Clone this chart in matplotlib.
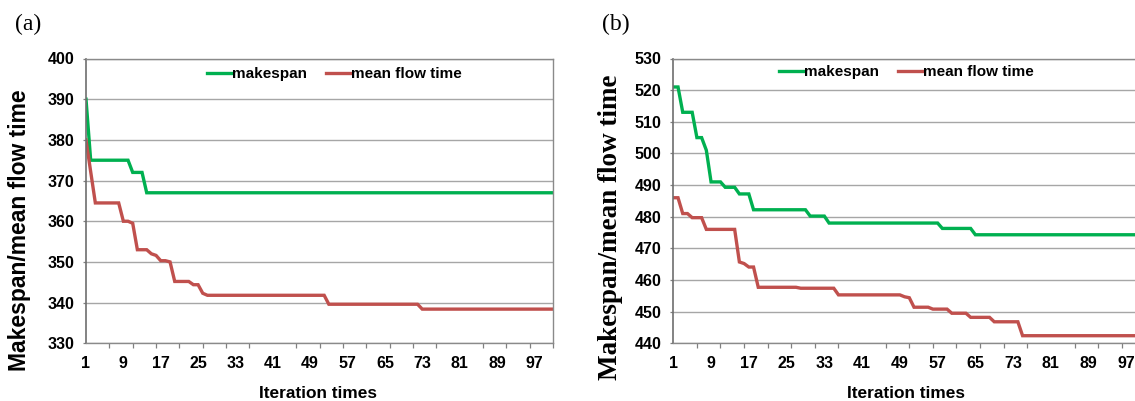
import numpy as np
import matplotlib
matplotlib.use("Agg")
import matplotlib.pyplot as plt

# iteration index (category axis)
iters = np.arange(1, 102)
xtick_labels = list(range(1, 98, 8))

# series, stored as (level, run length) steps
ms_a_vals = [390, 375, 372, 367]
ms_a_runs = [1, 9, 3, 88]
mft_a_vals = [380, 372.2, 364.5, 360, 359.5, 353, 352, 351.6, 350.3, 350,
              345.2, 344.4, 342.3, 341.8, 339.6, 338.4]
mft_a_runs = [1, 1, 6, 2, 1, 3, 1, 1, 2, 1, 4, 2, 1, 26, 20, 29]

ms_b_vals = [521, 513, 505, 501, 491, 489.3, 487.2, 482.2, 480.2, 478, 476.3, 474.3]
ms_b_runs = [2, 3, 2, 1, 3, 3, 3, 12, 4, 24, 7, 37]
mft_b_vals = [486, 481, 479.7, 476, 465.7, 465.2, 464.1, 457.7, 457.4, 455.3,
              454.7, 454.4, 451.4, 450.8, 449.5, 448.2, 446.8, 442.4]
mft_b_runs = [2, 2, 3, 7, 1, 1, 2, 9, 8, 14, 1, 1, 4, 4, 4, 5, 6, 27]

ms_a = np.repeat(ms_a_vals, ms_a_runs)
mft_a = np.repeat(mft_a_vals, mft_a_runs)
ms_b = np.repeat(ms_b_vals, ms_b_runs)
mft_b = np.repeat(mft_b_vals, mft_b_runs)

GREEN = "#00b050"
RED = "#c0504d"
SANS = "Liberation Sans"
SERIF = "Liberation Serif"

fig = plt.figure(figsize=(11.35, 4.01), dpi=100)
W, H = 1135, 401

def make_ax(left_px, right_px):
    top_px, bot_px = 58.5, 343.3
    return fig.add_axes([left_px / W, (H - bot_px) / H,
                         (right_px - left_px) / W, (bot_px - top_px) / H])

ax_a = make_ax(86, 553)
ax_b = make_ax(673.3, 1145.3)

panels = [
    (ax_a, ms_a, mft_a, (330, 400), SANS, 16.5, -0.1415, 0.397, (0.532, 0.944), 0.497),
    (ax_b, ms_b, mft_b, (440, 530), SERIF, 19.5, -0.132, 0.408, (0.494, 0.951), 0.494),
]

for ax, ms, mft, ylim, yfont, ysize, ylx, yly, legpos, xlx in panels:
    ax.plot(iters, ms, color=GREEN, lw=2.4, label="makespan", solid_joinstyle="miter")
    ax.plot(iters, mft, color=RED, lw=2.4, label="mean flow time", solid_joinstyle="miter")
    ax.set_xlim(1, 101)
    ax.set_ylim(*ylim)
    ax.set_yticks(np.arange(ylim[0], ylim[1] + 1, 10))
    ax.set_xticks(xtick_labels)
    ax.set_xticks(np.arange(1, 102, 5), minor=True)
    ax.tick_params(axis="x", which="major", length=0, pad=9)
    ax.tick_params(axis="x", which="minor", length=3.5, width=0.9, color="#808080", direction="out")
    ax.tick_params(axis="y", length=2.5, width=0.9, color="#808080", pad=6)
    for lab in ax.get_xticklabels() + ax.get_yticklabels():
        lab.set_fontfamily(SANS)
        lab.set_fontweight("bold")
        lab.set_fontsize(11.5)
    ax.grid(axis="y", color="#a6a6a6", lw=1.0)
    ax.set_axisbelow(True)
    for side in ["top", "right", "bottom"]:
        ax.spines[side].set_color("#8a8a8a")
        ax.spines[side].set_linewidth(1.0)
    ax.spines["left"].set_color("#6e6e6e")
    ax.spines["left"].set_linewidth(1.2)
    ax.text(ylx, yly, "Makespan/mean flow time", transform=ax.transAxes,
            rotation=90, ha="center", va="center",
            fontfamily=yfont, fontweight="bold", fontsize=ysize)
    ax.text(xlx, -0.178, "Iteration times", transform=ax.transAxes,
            ha="center", va="center", fontfamily=SANS, fontweight="bold", fontsize=12.4)
    ax.legend(loc="center", bbox_to_anchor=legpos, ncol=2, frameon=False,
              handlelength=1.6, handletextpad=0.05, columnspacing=1.2,
              prop={"family": SANS, "weight": "bold", "size": 11})

fig.text(15 / W, 1 - 24 / H, "(a)", fontfamily=SERIF, fontsize=17, ha="left", va="center")
fig.text(602 / W, 1 - 24 / H, "(b)", fontfamily=SERIF, fontsize=17, ha="left", va="center")

fig.savefig("out.png", dpi=100)
